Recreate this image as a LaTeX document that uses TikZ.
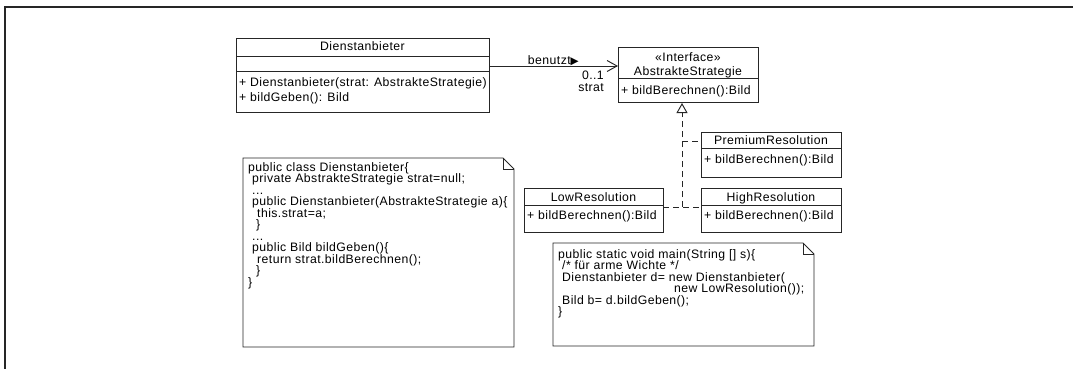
\documentclass[tikz,border=0pt]{standalone}
\usepackage{fontspec}
\setmainfont{Liberation Sans}[LetterSpace=3.5]
\newfontfamily\symfont{DejaVu Sans}
\usetikzlibrary{arrows.meta}

% stacked code lines with a fixed line pitch; the baseline is that of the first line
\newcommand\codelines[1]{\vtop{\baselineskip=11.5pt\lineskiplimit=-20pt\lineskip=0pt
  \halign{##\hfil\cr#1\crcr}}}

\begin{document}
\begin{tikzpicture}[x=1pt,y=-1pt,
  font=\fontsize{12.25}{11.5}\selectfont,
  ink/.style={draw=black!85, line width=0.95pt},
  classbox/.style={ink, inner sep=0pt, outer sep=0pt, anchor=north west},
  notebox/.style={inner sep=0pt, outer sep=0pt, anchor=north west},
  title/.style={inner sep=0pt, anchor=base},
  member/.style={inner sep=0pt, anchor=base west},
  realize/.style={ink, dash pattern=on 6pt off 4pt},
  frameline/.style={draw=black!85, line width=1.3pt}]

\useasboundingbox (0,0) rectangle (1073,369);

% diagram frame
\draw[frameline] (1073,7) -- (5,7) -- (5,369);

% ---------- class Dienstanbieter ----------
\node[classbox, minimum width=253pt, minimum height=74pt] (dienst) at (236,38) {};
\draw[ink] (dienst.west |- 0,56) -- (dienst.east |- 0,56);
\draw[ink] (dienst.west |- 0,71) -- (dienst.east |- 0,71);
\node[title] (dienstName) at (362.5,51) {Dienstanbieter};
\node[member] (dienstM1) at (239,86) {+ Dienstanbieter(strat: AbstrakteStrategie)};
\node[member] (dienstM2) at (239,101) {+ bildGeben(): Bild};

% ---------- interface AbstrakteStrategie ----------
\node[classbox, minimum width=140pt, minimum height=55pt] (iface) at (618,47) {};
\draw[ink] (iface.west |- 0,78) -- (iface.east |- 0,78);
\node[title] (ifaceStereo) at (688,62) {«Interface»};
\node[title] (ifaceName) at (688,75) {AbstrakteStrategie};
\node[member] (ifaceM) at (621,94) {+ bildBerechnen():Bild};

% ---------- concrete strategies ----------
\node[classbox, minimum width=140pt, minimum height=45pt] (prem) at (701,132) {};
\draw[ink] (prem.west |- 0,148) -- (prem.east |- 0,148);
\node[title] (premName) at (771,144) {PremiumResolution};
\node[member] (premM) at (704,163) {+ bildBerechnen():Bild};

\node[classbox, minimum width=140pt, minimum height=44pt] (high) at (701,188) {};
\draw[ink] (high.west |- 0,205) -- (high.east |- 0,205);
\node[title] (highName) at (771,201) {HighResolution};
\node[member] (highM) at (704,219) {+ bildBerechnen():Bild};

\node[classbox, minimum width=139pt, minimum height=44pt] (low) at (524,188) {};
\draw[ink] (low.west |- 0,205) -- (low.east |- 0,205);
\node[title] (lowName) at (593.5,201) {LowResolution};
\node[member] (lowM) at (527,219) {+ bildBerechnen():Bild};

% ---------- association ----------
\draw[ink, -{Straight Barb[length=10pt,width=11pt]}]
  (dienst.east |- 0,66) -- (iface.west |- 0,66);
\node[inner sep=0pt, anchor=base east] (assocName) at (579,64)
  {benutzt{\symfont\fontsize{10.5}{10.5}\selectfont ▶}};
\node[inner sep=0pt, anchor=base east] (assocMult) at (604,80) {0..1};
\node[inner sep=0pt, anchor=base east] (assocRole) at (604,92) {strat};

% ---------- realizations ----------
\coordinate (junc) at (682,207);
\coordinate (premJunc) at (682,141);
\coordinate (tip) at (682,103);
\draw[realize] (low.east |- junc) -- (high.west |- junc);
\draw[realize] (premJunc) -- (prem.west |- premJunc);
\draw[realize, -{Triangle[open,length=10pt,width=11pt]}] (junc) -- (tip);

% ---------- note: class source ----------
\node[notebox, minimum width=271pt, minimum height=189pt] (note1) at (243,158) {};
\draw[ink] (note1.north west) -- ([xshift=-11pt]note1.north east)
  -- ([yshift=-11pt]note1.north east) -- (note1.south east)
  -- (note1.south west) -- cycle;
\draw[ink] ([xshift=-11pt]note1.north east) -- ([xshift=-11pt,yshift=-11pt]note1.north east)
  -- ([yshift=-11pt]note1.north east);
\node[member] (note1text) at (248,171) {\codelines{%
public class Dienstanbieter\{\cr
\kern4pt private AbstrakteStrategie strat=null;\cr
\kern4pt ...\cr
\kern4pt public Dienstanbieter(AbstrakteStrategie a)\{\cr
\kern9pt this.strat=a;\cr
\kern8pt \}\cr
\kern4pt ...\cr
\kern4pt public Bild bildGeben()\{\cr
\kern9pt return strat.bildBerechnen();\cr
\kern8pt \}\cr
\}\cr}};

% ---------- note: client code ----------
\node[notebox, minimum width=261pt, minimum height=103pt] (note2) at (553,243) {};
\draw[ink] (note2.north west) -- ([xshift=-11pt]note2.north east)
  -- ([yshift=-11pt]note2.north east) -- (note2.south east)
  -- (note2.south west) -- cycle;
\draw[ink] ([xshift=-11pt]note2.north east) -- ([xshift=-11pt,yshift=-11pt]note2.north east)
  -- ([yshift=-11pt]note2.north east);
\node[member] (note2text) at (558,258) {\codelines{%
public static void main(String [] s)\{\cr
\kern4pt /* für arme Wichte */\cr
\kern4pt Dienstanbieter d= new Dienstanbieter(\cr
\kern116pt new LowResolution());\cr
\kern4pt Bild b= d.bildGeben();\cr
\}\cr}};

\end{tikzpicture}
\end{document}
